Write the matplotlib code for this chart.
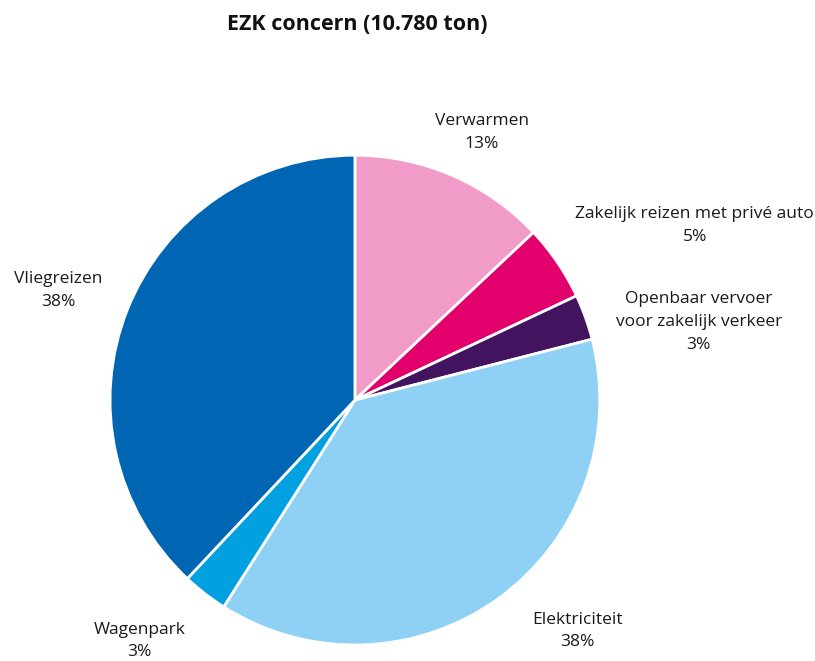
import numpy as np
import matplotlib.pyplot as plt

plt.rcParams['font.family'] = ['Open Sans', 'DejaVu Sans']

labels = ['Verwarmen', 'Zakelijk reizen met privé auto', 'Openbaar vervoer\nvoor zakelijk verkeer',
          'Elektriciteit', 'Wagenpark', 'Vliegreizen']
values = [13, 5, 3, 38, 3, 38]
colors = ['#F19BC8', '#E1006C', '#42145F', '#8FD1F4', '#00A0E1', '#0066B3']

# label placement (distance in radii, angle shift in degrees)
lab_dist = [1.21, 1.56, 1.44, 1.31, 1.32, 1.29]
lab_shift = [-2, -7, -7, 8, -4, 1.3]

fig = plt.figure(figsize=(8.15, 6.61), dpi=100)
ax = fig.add_axes([0.135, 0.0242, 0.601, 0.741])
wedges, _ = ax.pie(values, colors=colors, startangle=90, counterclock=False,
                   wedgeprops=dict(edgecolor='white', linewidth=2))
ax.set_xlim(-1, 1)
ax.set_ylim(-1, 1)
ax.set_aspect('equal')

for w, lab, v, d, s in zip(wedges, labels, values, lab_dist, lab_shift):
    ang = np.deg2rad((w.theta1 + w.theta2) / 2 + s)
    ax.text(d * np.cos(ang), d * np.sin(ang), f'{lab}\n{v}%', ha='center', va='center',
            fontsize=12.5, color='#1a1a1a', linespacing=1.55, clip_on=False)

fig.text(357 / 815, 1 - 25 / 661, 'EZK concern (10.780 ton)', ha='center', va='center',
         fontsize=15.5, fontweight='bold', color='#111111')

fig.savefig('out.png', dpi=100)
